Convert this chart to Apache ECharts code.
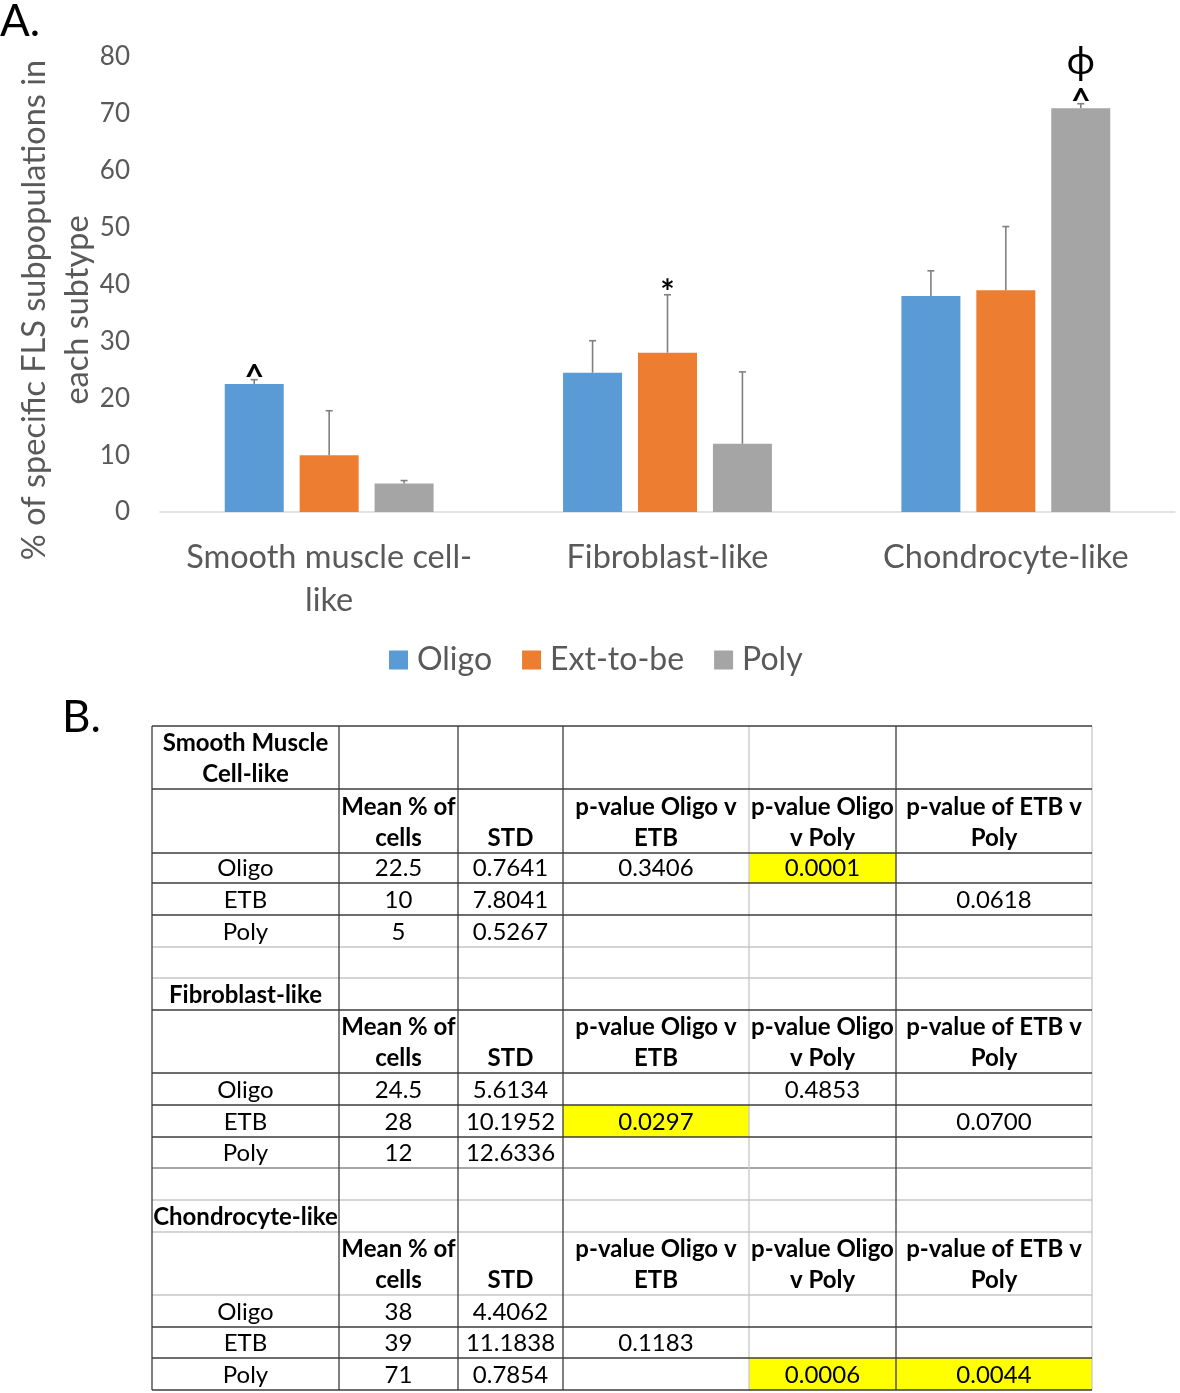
<!DOCTYPE html>
<html><head><meta charset="utf-8">
<script src="https://cdn.jsdelivr.net/npm/echarts@6/dist/echarts.min.js"></script>
<style>html,body{margin:0;padding:0;background:#fff;}#main{width:1180px;height:1393px;}</style>
</head><body><div id="main"></div>
<script>
// ---------- Data (part A) ----------
const categories = ['Smooth muscle cell-like', 'Fibroblast-like', 'Chondrocyte-like'];
const seriesNames = ['Oligo', 'Ext-to-be', 'Poly'];
const oligoMean = [22.5, 24.5, 38];
const etbMean = [10, 28, 39];
const polyMean = [5, 12, 71];
const oligoStd = [0.7641, 5.6134, 4.4062];
const etbStd = [7.8041, 10.1952, 11.1838];
const polyStd = [0.5267, 12.6336, 0.7854];
// significance marks, stacked from bottom upward
const oligoMarks = [['^'], [], []];
const etbMarks = [[], ['*'], []];
const polyMarks = [[], [], ['^', 'ϕ']];
const yMin = 0, yMax = 80, yStep = 10;

// ---------- Data (part B table) ----------
const tableSections = ['Smooth Muscle\nCell-like', 'Fibroblast-like', 'Chondrocyte-like'];
const tableHeader = ['', 'Mean % of\ncells', 'STD', 'p-value Oligo v\nETB', 'p-value Oligo\nv Poly', 'p-value of ETB v\nPoly'];
const tableGroups = ['Oligo', 'ETB', 'Poly'];
const pOligoVsEtb = [['0.3406', '', ''], ['', '0.0297', ''], ['', '0.1183', '']];
const pOligoVsPoly = [['0.0001', '', ''], ['0.4853', '', ''], ['', '', '0.0006']];
const pEtbVsPoly = [['', '0.0618', ''], ['', '0.0700', ''], ['', '', '0.0044']];
const alpha = 0.05;

// ---------- Chart ----------
const FONT = 'Lato';
const GRAY_TXT = '#595959';
const colors = ['#5B9BD5', '#ED7D31', '#A5A5A5'];
const means = [oligoMean, etbMean, polyMean];
const stds = [oligoStd, etbStd, polyStd];
const marks = [oligoMarks, etbMarks, polyMarks];
const BAR_W = 59, BAR_GAP = 0.27;
const STEP = BAR_W * (1 + BAR_GAP);

const chart = echarts.init(document.getElementById('main'), null, {renderer: 'canvas'});

const barSeries = seriesNames.map((n, i) => ({
  type: 'bar', name: n, data: means[i], barWidth: BAR_W, barGap: (BAR_GAP * 100) + '%',
  itemStyle: {color: colors[i]}, z: 2
}));

const errSeries = seriesNames.map((n, i) => ({
  type: 'custom', name: n + ' error', z: 5, silent: true,
  data: means[i].map((m, k) => [k, m, stds[i][k]]),
  renderItem(params, api) {
    const c = api.value(0), m = api.value(1), s = api.value(2);
    const x = api.coord([c, 0])[0] + (i - 1) * STEP;
    const yb = api.coord([c, m])[1];
    const yt = api.coord([c, m + s])[1];
    const children = [
      {type: 'line', shape: {x1: x, y1: yb, x2: x, y2: yt}, style: {stroke: '#808080', lineWidth: 1.6}},
      {type: 'line', shape: {x1: x - 3.5, y1: yt, x2: x + 3.5, y2: yt}, style: {stroke: '#808080', lineWidth: 1.6}}
    ];
    const mk = marks[i][params.dataIndex] || [];
    mk.forEach((sym, j) => {
      const phi = sym === 'ϕ';
      children.push({type: 'text', x: x, y: phi ? yt - 42 : yt - 2 - j * 30,
        style: {text: sym, fontFamily: FONT, fontSize: phi ? 38 : 34, fontWeight: phi ? 'normal' : 'bold', fill: '#000',
          align: 'center', verticalAlign: 'middle'}});
    });
    return {type: 'group', children};
  }
}));

// ---------- Table graphics ----------
const colX = [152, 339, 458, 563, 749, 896, 1092];
const rowY = [726, 789, 853, 883, 915, 947, 978, 1010, 1073, 1105, 1137, 1168, 1200, 1232, 1295, 1327, 1358, 1390];
const darkRows = [0, 1, 2, 3, 4, 7, 8, 9, 10, 15, 16, 17];
const midRows = [11];
const darkCols = [0, 1, 2, 3, 5];
const DARK = '#3c3c3c', LIGHT = '#c6c6c6', MID = '#8a8a8a';

const cells = []; // {r, c, text, bold, fill}
tableSections.forEach((sec, s) => {
  const base = s * 6;
  cells.push({r: base, c: 0, text: sec, bold: true});
  tableHeader.forEach((h, c) => { if (h) cells.push({r: base + 1, c, text: h, bold: true}); });
  tableGroups.forEach((g, gi) => {
    const r = base + 2 + gi;
    cells.push({r, c: 0, text: g});
    cells.push({r, c: 1, text: String(means[gi][s])});
    cells.push({r, c: 2, text: stds[gi][s].toFixed(4)});
    [pOligoVsEtb, pOligoVsPoly, pEtbVsPoly].forEach((arr, pi) => {
      const v = arr[s][gi];
      if (v) cells.push({r, c: 3 + pi, text: v, fill: parseFloat(v) < alpha ? '#FFFF00' : null});
    });
  });
});

const graphics = [];
cells.forEach(cl => {
  if (cl.fill) graphics.push({type: 'rect', z: 1,
    shape: {x: colX[cl.c], y: rowY[cl.r], width: colX[cl.c + 1] - colX[cl.c], height: rowY[cl.r + 1] - rowY[cl.r]},
    style: {fill: cl.fill}});
});
rowY.forEach((y, i) => {
  const col = darkRows.includes(i) ? DARK : (midRows.includes(i) ? MID : LIGHT);
  graphics.push({type: 'line', z: darkRows.includes(i) ? 4 : 3, shape: {x1: colX[0], y1: y, x2: colX[colX.length - 1], y2: y},
    style: {stroke: col, lineWidth: 1.3}});
});
colX.forEach((x, i) => {
  const col = darkCols.includes(i) ? DARK : LIGHT;
  graphics.push({type: 'line', z: darkCols.includes(i) ? 4 : 3, shape: {x1: x, y1: rowY[0], x2: x, y2: rowY[rowY.length - 1]},
    style: {stroke: col, lineWidth: 1.3}});
});
cells.forEach(cl => {
  graphics.push({type: 'text', z: 6, x: (colX[cl.c] + colX[cl.c + 1]) / 2, y: rowY[cl.r + 1] + 0.5,
    style: {text: cl.text, fontFamily: FONT, fontSize: 24, fontWeight: cl.bold ? 'bold' : 'normal',
      fill: '#000', align: 'center', verticalAlign: 'bottom', lineHeight: 31}});
});
// panel letters and y-axis title
graphics.push({type: 'text', x: 0, y: 22, style: {text: 'A.', fontFamily: FONT, fontSize: 44, fill: '#000', align: 'left', verticalAlign: 'middle'}});
graphics.push({type: 'text', x: 62, y: 718, style: {text: 'B.', fontFamily: FONT, fontSize: 44, fill: '#000', align: 'left', verticalAlign: 'middle'}});
graphics.push({type: 'text', x: 56, y: 310, rotation: Math.PI / 2,
  style: {text: '% of specific FLS subpopulations in\neach subtype', fontFamily: FONT, fontSize: 32.5, fill: GRAY_TXT,
    align: 'center', verticalAlign: 'middle', lineHeight: 43}});

chart.setOption({
  animation: false,
  backgroundColor: '#fff',
  textStyle: {fontFamily: FONT},
  grid: {left: 160, top: 57, width: 1015, height: 455, containLabel: false},
  legend: {data: seriesNames, left: 384, top: 639, icon: 'rect', itemWidth: 19, itemHeight: 19, itemGap: 30,
    textStyle: {fontSize: 32, color: GRAY_TXT, fontFamily: FONT, padding: [0, 0, 0, 4]}},
  xAxis: {type: 'category', data: categories,
    axisLine: {lineStyle: {color: '#d9d9d9', width: 1.5}}, axisTick: {show: false},
    axisLabel: {fontSize: 32.5, color: GRAY_TXT, lineHeight: 43, margin: 24, interval: 0, fontFamily: FONT,
      formatter: v => v.replace('cell-like', 'cell-\nlike')}},
  yAxis: {type: 'value', min: yMin, max: yMax, interval: yStep,
    axisLabel: {fontSize: 26, color: GRAY_TXT, margin: 30, fontFamily: FONT},
    splitLine: {show: false}, axisLine: {show: false}, axisTick: {show: false}},
  series: [...barSeries, ...errSeries],
  graphic: graphics
});
</script></body></html>
